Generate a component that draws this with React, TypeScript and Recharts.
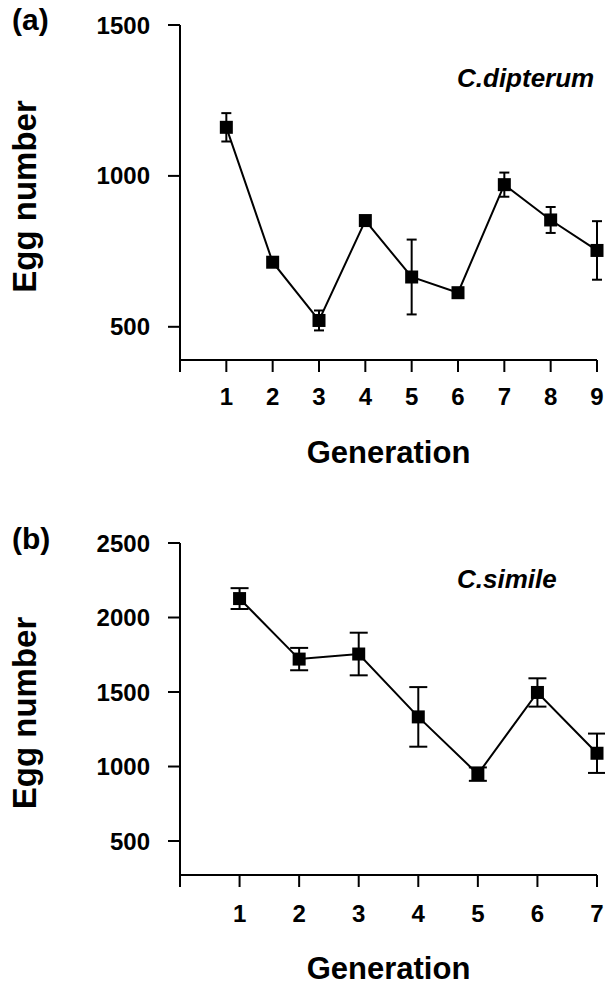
import React from 'react';
import { LineChart, Line, XAxis, YAxis, ErrorBar } from 'recharts';

// (a) C. dipterum
const genA = [1, 2, 3, 4, 5, 6, 7, 8, 9];
const eggA = [1161, 714, 521, 852, 665, 613, 971, 854, 753];
const errA = [47, 15, 33, 12, 124, 12, 40, 43, 97];
const xTicksA = [0, 1, 2, 3, 4, 5, 6, 7, 8, 9];
const yTicksA = [500, 1000, 1500];

// (b) C. simile
const genB = [1, 2, 3, 4, 5, 6, 7];
const eggB = [2127, 1721, 1755, 1333, 949, 1497, 1089];
const errB = [70, 75, 143, 200, 45, 95, 132];
const xTicksB = [0, 1, 2, 3, 4, 5, 6, 7];
const yTicksB = [500, 1000, 1500, 2000, 2500];

const FONT = '"Liberation Sans", Arial, Helvetica, sans-serif';

const dataA = genA.map((g, i) => ({ gen: g, egg: eggA[i], err: errA[i] }));
const dataB = genB.map((g, i) => ({ gen: g, egg: eggB[i], err: errB[i] }));

const axisStroke = { stroke: '#000', strokeWidth: 2 };
const tickStyle = { fill: '#000', fontSize: 24, fontWeight: 700, fontFamily: FONT };

const SquareDot = (props: any) => {
  const { cx, cy, index } = props;
  if (cx == null || cy == null) return null;
  return <rect key={`sq-${index}`} x={cx - 6.5} y={cy - 6.5} width={13} height={13} fill="#000" />;
};

const yTitle = (props: any) => {
  const { viewBox } = props;
  const cx = 36;
  const cy = viewBox.y + viewBox.height / 2 + 4;
  return (
    <text
      x={cx}
      y={cy}
      transform={`rotate(-90 ${cx} ${cy})`}
      textAnchor="middle"
      fontSize={33}
      fontWeight={700}
      fontFamily={FONT}
      fill="#000"
    >
      Egg number
    </text>
  );
};

const xTitle = (offset: number) => (props: any) => {
  const { viewBox } = props;
  return (
    <text
      x={viewBox.x + viewBox.width / 2}
      y={viewBox.y + offset}
      textAnchor="middle"
      fontSize={31}
      fontWeight={700}
      fontFamily={FONT}
      fill="#000"
    >
      Generation
    </text>
  );
};

const hideZero = (v: number) => (v === 0 ? '' : String(v));

const textBase: React.CSSProperties = {
  position: 'absolute',
  fontFamily: FONT,
  fontWeight: 700,
  lineHeight: 1,
  color: '#000',
  whiteSpace: 'nowrap',
};

export default function App() {
  return (
    <div style={{ position: 'relative', width: 605, height: 987, background: '#fff' }}>
      <style>{'body{margin:0;background:#fff}'}</style>

      <LineChart width={605} height={480} data={dataA} margin={{ top: 25, right: 8, left: 0, bottom: 0 }}>
        <XAxis
          dataKey="gen"
          type="number"
          domain={[0, 9]}
          ticks={xTicksA}
          tickFormatter={hideZero}
          height={120}
          tickSize={12}
          tickMargin={16}
          axisLine={axisStroke}
          tickLine={axisStroke}
          tick={tickStyle}
          label={{ content: xTitle(103) }}
        />
        <YAxis
          type="number"
          domain={[390, 1500]}
          ticks={yTicksA}
          width={180}
          tickSize={12}
          tickMargin={18}
          axisLine={axisStroke}
          tickLine={axisStroke}
          tick={tickStyle}
          label={{ content: yTitle }}
        />
        <Line
          dataKey="egg"
          stroke="#000"
          strokeWidth={2}
          dot={SquareDot}
          activeDot={false}
          isAnimationActive={false}
        >
          <ErrorBar dataKey="err" width={5} stroke="#000" strokeWidth={2} direction="y" />
        </Line>
      </LineChart>

      <LineChart width={605} height={507} data={dataB} margin={{ top: 63, right: 8, left: 0, bottom: 0 }}>
        <XAxis
          dataKey="gen"
          type="number"
          domain={[0, 7]}
          ticks={xTicksB}
          tickFormatter={hideZero}
          height={112}
          tickSize={12}
          tickMargin={18}
          axisLine={axisStroke}
          tickLine={axisStroke}
          tick={tickStyle}
          label={{ content: xTitle(104) }}
        />
        <YAxis
          type="number"
          domain={[272, 2500]}
          ticks={yTicksB}
          width={180}
          tickSize={12}
          tickMargin={18}
          axisLine={axisStroke}
          tickLine={axisStroke}
          tick={tickStyle}
          label={{ content: yTitle }}
        />
        <Line
          dataKey="egg"
          stroke="#000"
          strokeWidth={2}
          dot={SquareDot}
          activeDot={false}
          isAnimationActive={false}
        >
          <ErrorBar dataKey="err" width={9} stroke="#000" strokeWidth={2} direction="y" />
        </Line>
      </LineChart>

      <div style={{ ...textBase, left: 12, top: 5, fontSize: 30 }}>(a)</div>
      <div style={{ ...textBase, left: 457, top: 65, fontSize: 26, fontStyle: 'italic' }}>C.dipterum</div>
      <div style={{ ...textBase, left: 12, top: 524, fontSize: 30 }}>(b)</div>
      <div style={{ ...textBase, left: 457, top: 566, fontSize: 26, fontStyle: 'italic' }}>C.simile</div>
    </div>
  );
}
